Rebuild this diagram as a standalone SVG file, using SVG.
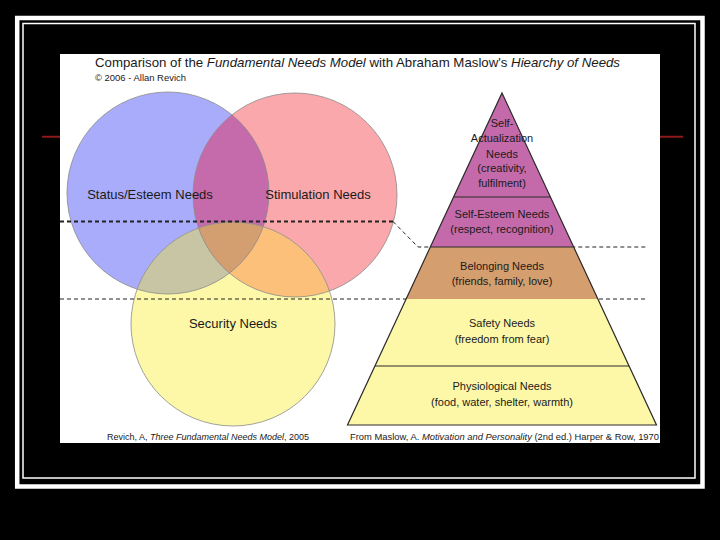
<svg xmlns="http://www.w3.org/2000/svg" width="720" height="540" viewBox="0 0 720 540">
<style>
.t{font-family:"Liberation Sans","DejaVu Sans",sans-serif;fill:#1a1a1a}
.it{font-style:italic}
.lbl{font-size:13px;text-anchor:middle}
.pl{font-size:11px;text-anchor:middle}
.cap{font-size:9px}
.cap2{font-size:9.4px}
.ring{fill:none;stroke:#8a8a8a;stroke-width:0.8}
.dashA{fill:none;stroke:#222;stroke-width:1.8;stroke-dasharray:4 3}
.dashB{fill:none;stroke:#222;stroke-width:1;stroke-dasharray:4 3}
.edge{fill:none;stroke:#2a2a2a;stroke-width:1.2}
</style>
<defs>
<clipPath id="cB"><circle cx="168" cy="193" r="101"/></clipPath>
<clipPath id="cP"><circle cx="295" cy="195" r="102"/></clipPath>
</defs>
<rect width="720" height="540" fill="#000"/>
<g id="frame">
<rect x="17.2" y="18" width="685.3" height="468.5" fill="none" stroke="#fff" stroke-width="4.5"/>
<rect x="23" y="23.5" width="672" height="454.5" fill="none" stroke="#fff" stroke-width="1.5"/>
<line x1="42" y1="136.7" x2="683" y2="136.7" stroke="#8b1a1a" stroke-width="2"/>
</g>
<rect id="panel" x="60" y="54" width="600" height="389" fill="#fff"/>
<g id="title">
<text class="t" x="95" y="67" font-size="13" textLength="525" lengthAdjust="spacingAndGlyphs">Comparison of the <tspan class="it">Fundamental Needs Model</tspan> with Abraham Maslow's <tspan class="it">Hiearchy of Needs</tspan></text>
<text class="t" x="95" y="81" font-size="9" textLength="91" lengthAdjust="spacingAndGlyphs">© 2006 - Allan Revich</text>
</g>
<g id="venn">
<g id="status-esteem"><circle cx="168" cy="193" r="101" fill="#a9acfa"/></g>
<g id="stimulation"><circle cx="295" cy="195" r="102" fill="#faa8ab"/></g>
<g id="security"><circle cx="233" cy="324" r="102" fill="#fdf8a8"/></g>
<circle cx="295" cy="195" r="102" fill="#c56aab" clip-path="url(#cB)"/>
<circle cx="233" cy="324" r="102" fill="#c8c5a5" clip-path="url(#cB)"/>
<circle cx="233" cy="324" r="102" fill="#fdc07a" clip-path="url(#cP)"/>
<g clip-path="url(#cB)"><circle cx="233" cy="324" r="102" fill="#d39e70" clip-path="url(#cP)"/></g>
<circle class="ring" cx="168" cy="193" r="101"/>
<circle class="ring" cx="295" cy="195" r="102"/>
<circle class="ring" cx="233" cy="324" r="102"/>
<text class="t lbl" x="150" y="199">Status/Esteem Needs</text>
<text class="t lbl" x="318" y="199">Stimulation Needs</text>
<text class="t lbl" x="233" y="328">Security Needs</text>
</g>
<g id="connectors">
<line class="dashA" x1="60" y1="221.5" x2="393" y2="221.5"/>
<polyline class="dashB" points="393,221.5 418,247 648,247"/>
<line class="dashB" x1="60" y1="299" x2="648" y2="299"/>
</g>
<g id="pyramid">
<g id="self-actualization"><polygon points="502,93 550.4,197 453.6,197" fill="#c46aab"/></g>
<g id="self-esteem"><polygon points="453.6,197 550.4,197 573.7,247 430.3,247" fill="#c46aab"/></g>
<g id="belonging"><polygon points="430.3,247 573.7,247 597.9,299 406.1,299" fill="#d59e6e"/></g>
<g id="safety"><polygon points="406.1,299 597.9,299 629,366 375,366" fill="#fdf8a8"/></g>
<g id="physiological"><polygon points="375,366 629,366 656.5,425 347.5,425" fill="#fdf8a8"/></g>
<polygon class="edge" points="502,93 656.5,425 347.5,425"/>
<line class="edge" x1="453.6" y1="197" x2="550.4" y2="197"/>
<line class="edge" x1="430.3" y1="247" x2="573.7" y2="247"/>
<line class="edge" x1="375" y1="366" x2="629" y2="366"/>
<text class="t pl" x="502" y="127">Self-</text>
<text class="t pl" x="502" y="142">Actualization</text>
<text class="t pl" x="502" y="158">Needs</text>
<text class="t pl" x="502" y="172">(creativity,</text>
<text class="t pl" x="502" y="187">fulfilment)</text>
<text class="t pl" x="502" y="218">Self-Esteem Needs</text>
<text class="t pl" x="502" y="233">(respect,  recognition)</text>
<text class="t pl" x="502" y="270">Belonging Needs</text>
<text class="t pl" x="502" y="285">(friends, family, love)</text>
<text class="t pl" x="502" y="327">Safety Needs</text>
<text class="t pl" x="502" y="343">(freedom from fear)</text>
<text class="t pl" x="502" y="390">Physiological Needs</text>
<text class="t pl" x="502" y="406">(food, water, shelter, warmth)</text>
</g>
<g id="captions">
<text class="t cap" x="208" y="440" text-anchor="middle">Revich, A, <tspan class="it">Three Fundamental Needs Model</tspan>, 2005</text>
<text class="t cap2" x="659" y="440" text-anchor="end">From Maslow, A.  <tspan class="it">Motivation and Personality</tspan> (2nd ed.) Harper &amp; Row, 1970</text>
</g>
</svg>
